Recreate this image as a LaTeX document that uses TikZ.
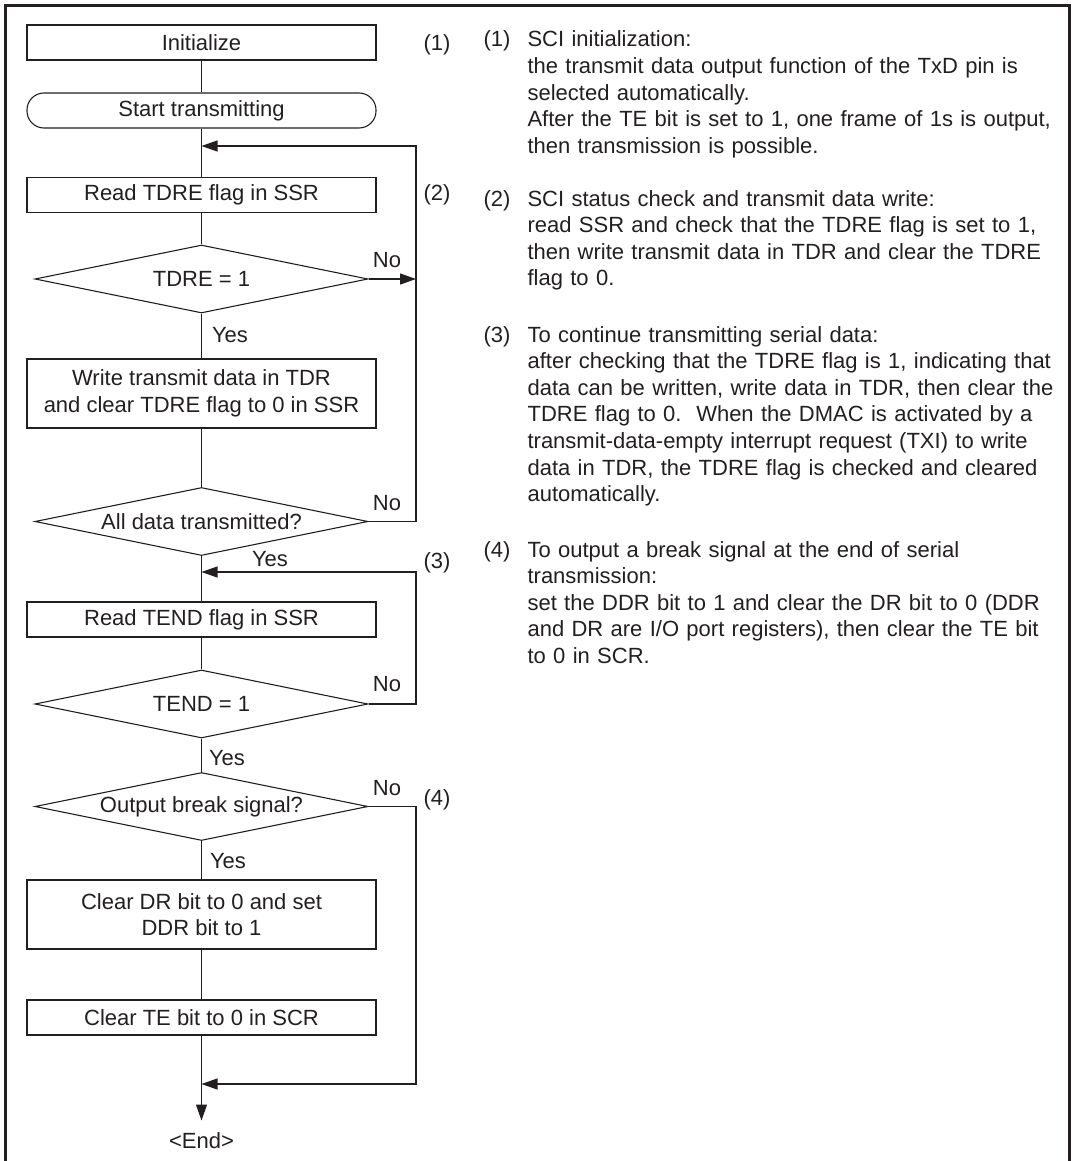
\documentclass[tikz,border=0pt]{standalone}
\usepackage{fontspec}
\setmainfont{Liberation Sans}
\usetikzlibrary{positioning, arrows.meta, shapes.geometric}
\definecolor{inkgray}{HTML}{231F20}

\begin{document}
\begin{tikzpicture}[
      x=1pt, y=-1pt,
      every node/.style={font=\fontsize{22pt}{26.6pt}\selectfont},
      box/.style={draw, minimum width=349pt, minimum height=#1,
                  inner sep=0pt, align=center},
      box/.default=35pt,
      term/.style={box, rounded corners=17pt},
      test/.style={draw, diamond, aspect=4.8, minimum width=333pt,
                   minimum height=68pt, inner sep=0pt},
      lbl/.style={anchor=base, inner sep=0pt},
      note/.style={anchor=base west, text width=560pt, align=left, inner sep=0pt},
      frame/.style={line width=3pt},
      >={Triangle[length=16pt, width=11pt]},
      color=inkgray, line width=1.1pt,
    ]
    \clip (0,0) rectangle (1072,1161);
    \draw[frame] (5,1175) |- (1069,6) -- (1069,1175);

    % Flow steps
    \node[box]       (init)    at (201.5,42.5)  {Initialize};
    \node[term]      (start)   at (201.5,110.5) {Start transmitting};
    \node[box]       (rdtdre)  at (201.5,195)   {Read TDRE flag in SSR};
    \node[test]      (tdre)    at (201.5,279)   {TDRE = 1};
    \node[box=69pt]  (wrtdr)   at (201.5,393.5)
      {Write transmit data in TDR\\and clear TDRE flag to 0 in SSR};
    \node[test]      (alldone) at (201.5,521.5) {All data transmitted?};
    \node[box]       (rdtend)  at (201.5,619.5) {Read TEND flag in SSR};
    \node[test]      (tend)    at (201.5,704)   {TEND = 1};
    \node[test]      (brkq)    at (201.5,806.5) {Output break signal?};
    \node[box=69pt]  (clrdr)   at (201.5,914.5)
      {Clear DR bit to 0 and set\\DDR bit to 1};
    \node[box]       (clrte)   at (201.5,1017.5) {Clear TE bit to 0 in SCR};
    \node[anchor=base, inner sep=11pt] (fin) at (201.5,1148) {<End>};

    % Branch labels
    \node[lbl] (no1)  at (387,267) {No};
    \node[lbl] (yes1) at (230,342) {Yes};
    \node[lbl] (no2)  at (387,510) {No};
    \node[lbl] (yes2) at (270,566) {Yes};
    \node[lbl] (no3)  at (387,691) {No};
    \node[lbl] (yes3) at (227,765) {Yes};
    \node[lbl] (no4)  at (387,795) {No};
    \node[lbl] (yes4) at (228,868) {Yes};

    % Step tags
    \node (tag1) at (437,45)  {(1)};
    \node (tag2) at (437,195) {(2)};
    \node (tag3) at (437,563) {(3)};
    \node (tag4) at (437,800) {(4)};

    % Notes
    \node[note] (num1) at (483,47) {(1)};
    \node[note] (desc1) at (527,47)
      {SCI initialization:\\
       the transmit data output function of the TxD pin is\\
       selected automatically.\\
       After the TE bit is set to 1, one frame of 1s is output,\\
       then transmission is possible.};
    \node[note] (num2) at (483,206) {(2)};
    \node[note] (desc2) at (527,206)
      {SCI status check and transmit data write:\\
       read SSR and check that the TDRE flag is set to 1,\\
       then write transmit data in TDR and clear the TDRE\\
       flag to 0.};
    \node[note] (num3) at (483,342) {(3)};
    \node[note] (desc3) at (527,342)
      {To continue transmitting serial data:\\
       after checking that the TDRE flag is 1, indicating that\\
       data can be written, write data in TDR, then clear the\\
       TDRE flag to 0.\ \ When the DMAC is activated by a\\
       transmit-data-empty interrupt request (TXI) to write\\
       data in TDR, the TDRE flag is checked and cleared\\
       automatically.};
    \node[note] (num4) at (483,557) {(4)};
    \node[note] (desc4) at (527,557)
      {To output a break signal at the end of serial\\
       transmission:\\
       set the DDR bit to 1 and clear the DR bit to 0 (DDR\\
       and DR are I/O port registers), then clear the TE bit\\
       to 0 in SCR.};

    % Join points on the main line
    \coordinate (j1) at (201.5,146);
    \coordinate (r1) at (416,146);
    \coordinate (j2) at (201.5,572);
    \coordinate (r2) at (416,572);
    \coordinate (j3) at (201.5,1084);
    \coordinate (r3) at (416,1084);

    % Connections
    \draw (init) -- (start);
    \draw (start) -- (rdtdre);
    \draw (rdtdre) -- (tdre);
    \draw (tdre) -- (wrtdr);
    \draw (wrtdr) -- (alldone);
    \draw (alldone) -- (rdtend);
    \draw (rdtend) -- (tend);
    \draw (tend) -- (brkq);
    \draw (brkq) -- (clrdr);
    \draw (clrdr) -- (clrte);
    \draw[->] (clrte) -- (fin);

    % Loops back
    \draw[->] (tdre.east) -- (tdre.east -| r1);
    \draw[->] (alldone.east) -| (r1) -- (j1);
    \draw[->] (tend.east) -| (r2) -- (j2);
    \draw[->] (brkq.east) -| (r3) -- (j3);
  \end{tikzpicture}
\end{document}
